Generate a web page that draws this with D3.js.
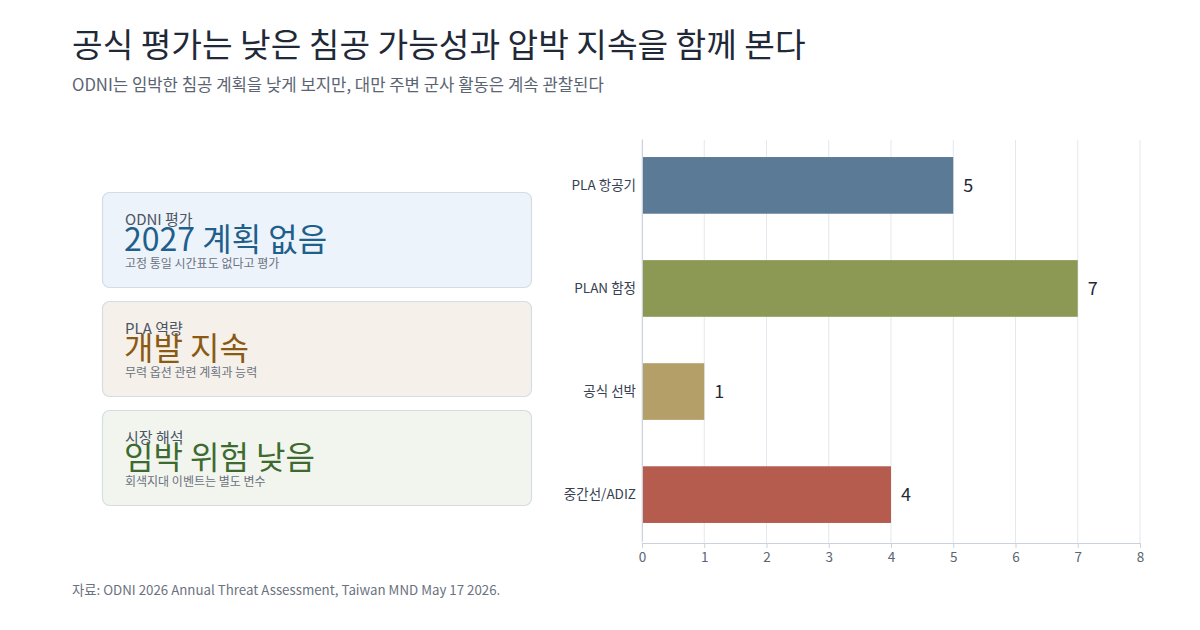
<!DOCTYPE html>
<html><head><meta charset="utf-8">
<script src="https://cdn.jsdelivr.net/npm/d3@7"></script>
<style>
body{margin:0;background:#fff;}
svg{font-family:"Noto Sans CJK KR","Noto Sans",sans-serif;}
</style></head>
<body><svg id="c" width="1200" height="630"></svg>
<script>
const categories = ["PLA 항공기","PLAN 함정","공식 선박","중간선/ADIZ"];
const values = [5,7,1,4];
const barColors = ["#5b7a96","#8c9955","#b59f69","#b65c4e"];
const xTicks = [0,1,2,3,4,5,6,7,8];
const cardLabels = ["ODNI 평가","PLA 역량","시장 해석"];
const cardValues = ["2027 계획 없음","개발 지속","임박 위험 낮음"];
const cardNotes = ["고정 통일 시간표도 없다고 평가","무력 옵션 관련 계획과 능력","회색지대 이벤트는 별도 변수"];
const cardFills = ["#edf3fb","#f5f1ea","#f2f5ee"];
const cardTextColors = ["#1f5f8b","#8a5a14","#3d6b2f"];

const svg = d3.select("#c");
svg.append("rect").attr("width",1200).attr("height",630).attr("fill","#fff");

svg.append("text").attr("x",72).attr("y",57).attr("font-size",33.3).attr("fill","#1f2937").attr("font-weight",400)
  .text("공식 평가는 낮은 침공 가능성과 압박 지속을 함께 본다");
svg.append("text").attr("x",72).attr("y",91).attr("font-size",16.7).attr("fill","#5b6472")
  .text("ODNI는 임박한 침공 계획을 낮게 보지만, 대만 주변 군사 활동은 계속 관찰된다");
svg.append("text").attr("x",72).attr("y",595).attr("font-size",13.3).attr("fill","#6b7280")
  .text("자료: ODNI 2026 Annual Threat Assessment, Taiwan MND May 17 2026.");

// cards
const cards = svg.append("g").selectAll("g").data(d3.range(3)).join("g")
  .attr("transform", i => `translate(102,${192 + i*109})`);
cards.append("rect").attr("x",0.5).attr("y",0.5).attr("width",429).attr("height",95).attr("rx",7)
  .attr("fill", i => cardFills[i]).attr("stroke","#d5dce6").attr("stroke-width",1.2);
cards.append("text").attr("x",23).attr("y",33).attr("font-size",15).attr("fill","#4b5563").text(i => cardLabels[i]);
cards.append("text").attr("x",22).attr("y",59).attr("font-size",32).attr("fill", i => cardTextColors[i]).text(i => cardValues[i]);
cards.append("text").attr("x",23).attr("y",76).attr("font-size",12).attr("fill","#6b7280").text(i => cardNotes[i]);

// bar chart
const x = d3.scaleLinear().domain([0,8]).range([642,1140]);
const y = d3.scaleBand().domain(categories).range([139,541]).paddingInner(0.45).paddingOuter(0.175);
const g = svg.append("g");
g.selectAll("line.grid").data(xTicks).join("line").attr("class","grid")
  .attr("x1",d=>x(d)).attr("x2",d=>x(d)).attr("y1",140).attr("y2",543)
  .attr("stroke","#e3e7ee").attr("stroke-width",1);
g.selectAll("rect.bar").data(values).join("rect").attr("class","bar")
  .attr("x",x(0)).attr("y",(d,i)=>y(categories[i])).attr("width",d=>x(d)-x(0)).attr("height",y.bandwidth())
  .attr("fill",(d,i)=>barColors[i]);
g.selectAll("text.val").data(values).join("text").attr("class","val")
  .attr("x",d=>x(d)+10).attr("y",(d,i)=>y(categories[i])+y.bandwidth()/2).attr("dy","0.35em")
  .attr("font-size",18).attr("fill","#1f2937").text(d=>d);

const xAxis = g.append("g").attr("transform","translate(0,543)")
  .call(d3.axisBottom(x).tickValues(xTicks).tickSize(5).tickPadding(4).tickFormat(d3.format("d")));
xAxis.select(".domain").attr("stroke","#cbd2dc");
xAxis.selectAll(".tick line").attr("stroke","#cbd2dc");
xAxis.selectAll("text").attr("font-size",13.5).attr("fill","#5b6472").attr("font-family","\"Noto Sans CJK KR\",sans-serif");

const yAxis = g.append("g").attr("transform","translate(642,0)")
  .call(d3.axisLeft(y).tickSize(0).tickPadding(6));
yAxis.select(".domain").attr("stroke","#cbd2dc");
yAxis.selectAll("text").attr("font-size",13.5).attr("fill","#374151").attr("font-family","\"Noto Sans CJK KR\",sans-serif");
</script></body></html>
